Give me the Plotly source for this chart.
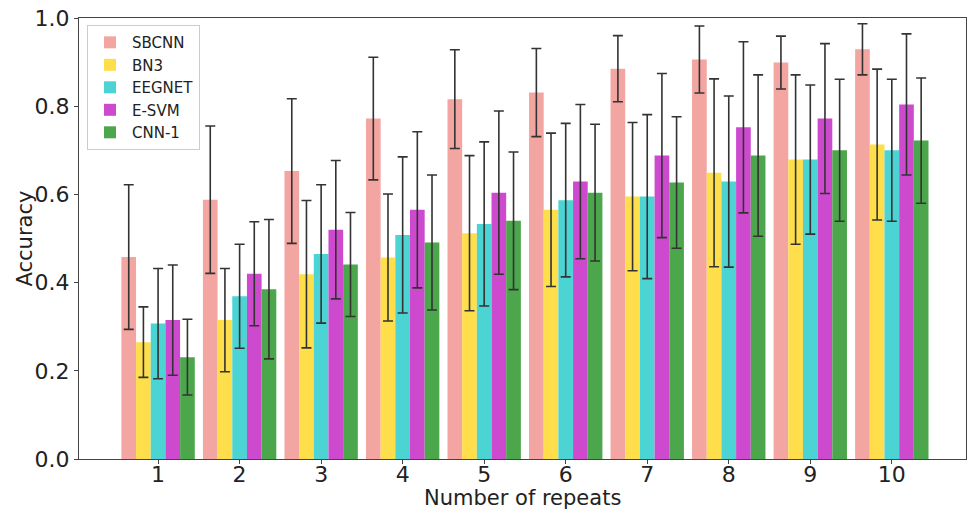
import plotly.graph_objects as go

repeats = [1, 2, 3, 4, 5, 6, 7, 8, 9, 10]
series_names = ["SBCNN", "BN3", "EEGNET", "E-SVM", "CNN-1"]

sbcnn = [0.458, 0.588, 0.653, 0.772, 0.816, 0.831, 0.885, 0.906, 0.899, 0.929]
sbcnn_err = [0.164, 0.167, 0.164, 0.139, 0.112, 0.100, 0.075, 0.076, 0.060, 0.058]

bn3 = [0.265, 0.315, 0.419, 0.457, 0.512, 0.565, 0.595, 0.649, 0.679, 0.713]
bn3_err = [0.080, 0.117, 0.167, 0.144, 0.176, 0.174, 0.168, 0.213, 0.192, 0.171]

eegnet = [0.307, 0.369, 0.465, 0.508, 0.533, 0.587, 0.595, 0.629, 0.679, 0.700]
eegnet_err = [0.125, 0.118, 0.157, 0.177, 0.186, 0.174, 0.186, 0.194, 0.169, 0.161]

esvm = [0.315, 0.420, 0.520, 0.565, 0.604, 0.629, 0.688, 0.752, 0.772, 0.804]
esvm_err = [0.125, 0.118, 0.157, 0.177, 0.185, 0.175, 0.186, 0.194, 0.170, 0.160]

cnn1 = [0.231, 0.385, 0.441, 0.491, 0.540, 0.604, 0.627, 0.688, 0.700, 0.722]
cnn1_err = [0.086, 0.158, 0.118, 0.153, 0.156, 0.155, 0.149, 0.183, 0.161, 0.142]

colors = ["#F3A5A2", "#FFDE4C", "#4CD3D3", "#CD4ACF", "#4CA64C"]

values = [sbcnn, bn3, eegnet, esvm, cnn1]
errors = [sbcnn_err, bn3_err, eegnet_err, esvm_err, cnn1_err]

fig = go.Figure()
for name, vals, errs, col in zip(series_names, values, errors, colors):
    fig.add_trace(go.Bar(
        x=repeats, y=vals, name=name,
        marker=dict(color=col, line=dict(width=0)),
        error_y=dict(type="data", array=errs, visible=True,
                     color="#333333", thickness=1.6, width=5),
    ))

axis_common = dict(
    showline=True, linecolor="#444444", linewidth=1.2, mirror=True,
    ticks="outside", ticklen=4, tickcolor="#444444", tickwidth=1.2,
    showgrid=False, zeroline=False, automargin=False,
    tickfont=dict(family="DejaVu Sans", size=22, color="#222222"),
)

fig.update_layout(
    width=969, height=513,
    margin=dict(l=79, r=3, t=18, b=54),
    paper_bgcolor="white", plot_bgcolor="white",
    barmode="group", bargap=0.1, bargroupgap=0,
    font=dict(family="DejaVu Sans", color="#222222"),
    xaxis=dict(range=[0.03, 10.91], tickmode="array", tickvals=repeats,
               ticklabelstandoff=-9, **axis_common),
    yaxis=dict(range=[0, 1.0], tickmode="array",
               tickvals=[0, 0.2, 0.4, 0.6, 0.8, 1.0],
               ticktext=["0.0", "0.2", "0.4", "0.6", "0.8", "1.0"],
               **axis_common),
    legend=dict(x=0.009, y=0.984, xanchor="left", yanchor="top",
                bgcolor="rgba(255,255,255,0.9)", bordercolor="#CCCCCC", borderwidth=1,
                font=dict(size=15, family="DejaVu Sans"), tracegroupgap=2,
                itemwidth=34),
    showlegend=True,
    annotations=[
        dict(text="Number of repeats", xref="paper", yref="paper",
             x=0.5, y=-0.0884, xanchor="center", yanchor="middle",
             showarrow=False, font=dict(size=21, family="DejaVu Sans", color="#222222")),
        dict(text="Accuracy", xref="paper", yref="paper",
             x=-0.062, y=0.5, xanchor="center", yanchor="middle", textangle=-90,
             showarrow=False, font=dict(size=21, family="DejaVu Sans", color="#222222")),
    ],
)

fig.write_html("out.html", config={"displayModeBar": False},
               post_script="document.body.style.margin='0';document.body.style.padding='0';")
